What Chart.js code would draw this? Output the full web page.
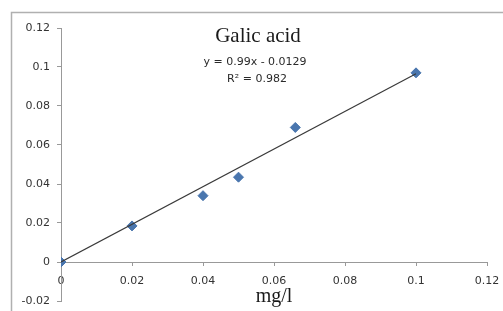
<!DOCTYPE html>
<html>
<head>
<meta charset="utf-8">
<script src="https://cdn.jsdelivr.net/npm/chart.js@4.4.1/dist/chart.umd.min.js"></script>
<style>
  html, body { margin: 0; padding: 0; background: #fff; overflow: hidden; }
  #wrap { position: relative; width: 503px; height: 311px; }
  canvas { display: block; }
</style>
</head>
<body>
<div id="wrap"><canvas id="c" width="503" height="311"></canvas></div>
<script>
// ---- data ----
const concentrations = [0, 0.02, 0.04, 0.05, 0.066, 0.1];     // mg/l
const absorbances    = [0, 0.0185, 0.034, 0.0435, 0.069, 0.097];
const trendX = [0, 0.1];
const trendY = [0, 0.0965];
const xTicks = [0, 0.02, 0.04, 0.06, 0.08, 0.1, 0.12];
const xTickLabels = ['0', '0.02', '0.04', '0.06', '0.08', '0.1', '0.12'];
const yTicks = [-0.02, 0, 0.02, 0.04, 0.06, 0.08, 0.1, 0.12];
const yTickLabels = ['-0.02', '0', '0.02', '0.04', '0.06', '0.08', '0.1', '0.12'];
const chartTitle = 'Galic acid';
const equationText = 'y = 0.99x - 0.0129';
const r2Text = 'R² = 0.982';
const xTitle = 'mg/l';

const pointsData = concentrations.map((x, i) => ({ x: x, y: absorbances[i] }));
const trendData = trendX.map((x, i) => ({ x: x, y: trendY[i] }));

const decor = {
  id: 'decor',
  beforeDraw(chart) {
    const ctx = chart.ctx;
    ctx.save();
    ctx.fillStyle = '#fff';
    ctx.fillRect(0, 0, chart.width, chart.height);
    ctx.strokeStyle = '#b0b0b0';
    ctx.lineWidth = 1.5;
    ctx.strokeRect(11.5, 12.5, 700, 500);
    ctx.restore();
  },
  afterDraw(chart) {
    const ctx = chart.ctx;
    const area = chart.chartArea;
    ctx.save();
    ctx.fillStyle = '#1a1a1a';
    ctx.textAlign = 'center';
    ctx.textBaseline = 'middle';
    ctx.font = '21px "Liberation Serif"';
    ctx.fillText(chartTitle, 258, 36);
    ctx.font = '20px "Liberation Serif"';
    ctx.fillText(xTitle, (area.left + area.right) / 2, 297);
    ctx.fillStyle = '#2a2a2a';
    ctx.font = '11px "DejaVu Sans"';
    ctx.fillText(equationText, 255, 62);
    ctx.fillText(r2Text, 257, 79);
    ctx.restore();
  }
};

new Chart(document.getElementById('c'), {
  type: 'scatter',
  data: {
    datasets: [
      {
        label: 'trend',
        data: trendData,
        showLine: true,
        borderColor: '#3a3a3a',
        borderWidth: 1.2,
        pointRadius: 0,
        fill: false
      },
      {
        label: 'Galic acid',
        data: pointsData,
        pointStyle: 'rectRot',
        pointRadius: 5,
        backgroundColor: '#4a76ae',
        borderColor: '#4a76ae',
        borderWidth: 1
      }
    ]
  },
  plugins: [decor],
  options: {
    responsive: false,
    animation: false,
    devicePixelRatio: 1,
    layout: { padding: { left: 0, top: 28, right: 16, bottom: 10 } },
    plugins: {
      legend: { display: false },
      tooltip: { enabled: false },
      title: { display: false }
    },
    scales: {
      x: {
        type: 'linear',
        position: { y: 0 },
        min: 0,
        max: 0.12,
        afterBuildTicks(scale) { scale.ticks = xTicks.map(v => ({ value: v })); },
        afterFit(scale) { scale.paddingLeft = 0; scale.paddingRight = 0; },
        ticks: {
          callback: (v, i) => xTickLabels[i],
          font: { family: 'DejaVu Sans', size: 11 },
          color: '#333',
          padding: 10,
          maxRotation: 0,
          autoSkip: false
        },
        grid: { drawOnChartArea: false, drawTicks: true, tickLength: 3, color: '#999' },
        border: { display: true, color: '#999', width: 1 },
        title: { display: false }
      },
      y: {
        type: 'linear',
        position: 'left',
        min: -0.02,
        max: 0.12,
        afterBuildTicks(scale) { scale.ticks = yTicks.map(v => ({ value: v })); },
        afterFit(scale) { scale.width = 61; scale.paddingTop = 0; scale.paddingBottom = 0; },
        ticks: {
          callback: (v, i) => yTickLabels[i],
          font: { family: 'DejaVu Sans', size: 11 },
          color: '#333',
          padding: 7,
          autoSkip: false
        },
        grid: { drawOnChartArea: false, drawTicks: true, tickLength: 4, color: '#999' },
        border: { display: true, color: '#999', width: 1 }
      }
    }
  }
});
</script>
</body>
</html>
